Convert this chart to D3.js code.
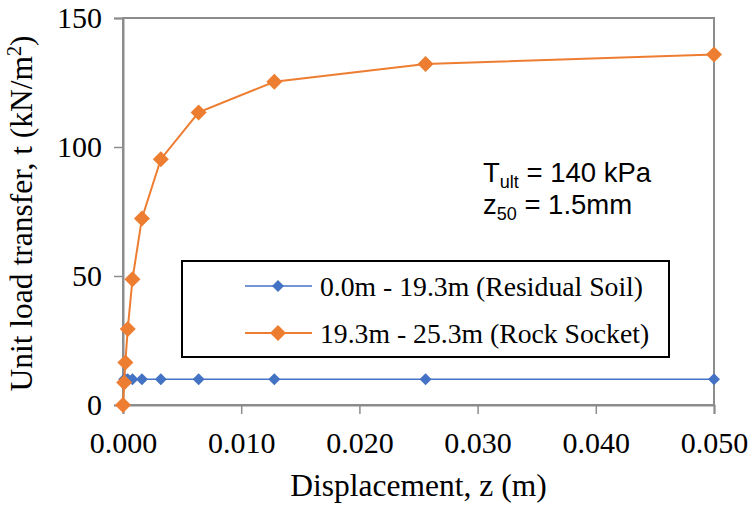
<!DOCTYPE html>
<html>
<head>
<meta charset="utf-8">
<script src="https://cdn.jsdelivr.net/npm/d3@7"></script>
<style>
body { margin: 0; background: #fff; }
text { font-family: "Liberation Serif", "Times New Roman", serif; fill: #000; }
</style>
</head>
<body>
<script>
var width = 753;
var height = 506;

// data
var zSoil = [0.0001, 0.0002, 0.0004, 0.0008, 0.0016, 0.0032, 0.0064, 0.0128, 0.0256, 0.05];
var tSoil = [10, 10, 10, 10, 10, 10, 10, 10, 10, 10];
var zRock = [0, 0.0001, 0.0002, 0.0004, 0.0008, 0.0016, 0.0032, 0.0064, 0.0128, 0.0256, 0.05];
var tRock = [0, 8.7, 16.5, 29.5, 48.7, 72.3, 95.3, 113.4, 125.3, 132.2, 135.9];
var seriesNames = ["0.0m - 19.3m (Residual Soil)", "19.3m - 25.3m (Rock Socket)"];
var xTicks = [0, 0.01, 0.02, 0.03, 0.04, 0.05];
var yTicks = [0, 50, 100, 150];

var margin = {left: 123, right: 39, top: 18, bottom: 101};
var w = width - margin.left - margin.right;
var h = height - margin.top - margin.bottom;

var svg = d3.select("body")
    .append("svg")
    .attr("width", width)
    .attr("height", height);

var g = svg.append("g")
    .attr("transform", "translate(" + margin.left + "," + margin.top + ")");

var x = d3.scaleLinear().domain([0, 0.05]).range([0, w]);
var y = d3.scaleLinear().domain([0, 150]).range([h, 0]);

// plot frame
g.append("rect")
    .attr("width", w)
    .attr("height", h)
    .attr("fill", "none")
    .attr("stroke", "#8c8c8c")
    .attr("stroke-width", 2);

var xAxis = g.append("g")
    .attr("transform", "translate(0," + h + ")")
    .call(d3.axisBottom(x).tickValues(xTicks).tickFormat(d3.format(".3f")).tickSize(9).tickPadding(18));
var yAxis = g.append("g")
    .call(d3.axisLeft(y).tickValues(yTicks).tickSize(9).tickPadding(12));

[xAxis, yAxis].forEach(function(a) {
  a.select(".domain").attr("stroke", "#8c8c8c").attr("stroke-width", 2);
  a.selectAll(".tick line").attr("stroke", "#8c8c8c").attr("stroke-width", 1.5);
  a.selectAll(".tick text").attr("font-size", 30).attr("font-family", "Liberation Serif").attr("fill", "#000");
});

var colors = ["#4472C4", "#ED7D31"];
var series = [
  {name: seriesNames[0], z: zSoil, t: tSoil, color: colors[0], r: 6, lw: 1.5},
  {name: seriesNames[1], z: zRock, t: tRock, color: colors[1], r: 8, lw: 2}
];

var line = d3.line()
    .x(function(d) { return x(d[0]); })
    .y(function(d) { return y(d[1]); });

var diamond = function(r) {
  return "M0," + (-r) + "L" + r + ",0L0," + r + "L" + (-r) + ",0Z";
};

series.forEach(function(s) {
  var pts = s.z.map(function(v, i) { return [v, s.t[i]]; });
  g.append("path")
      .datum(pts)
      .attr("fill", "none")
      .attr("stroke", s.color)
      .attr("stroke-width", s.lw)
      .attr("d", line);
  g.selectAll(null)
      .data(pts)
      .enter()
      .append("path")
      .attr("d", diamond(s.r))
      .attr("fill", s.color)
      .attr("transform", function(d) { return "translate(" + x(d[0]) + "," + y(d[1]) + ")"; });
});

// legend
var legend = svg.append("g").attr("transform", "translate(182,261)");
legend.append("rect")
    .attr("width", 487)
    .attr("height", 96)
    .attr("fill", "#fff")
    .attr("stroke", "#000")
    .attr("stroke-width", 2);
series.forEach(function(s, i) {
  var row = legend.append("g").attr("transform", "translate(0," + (25 + i * 47) + ")");
  row.append("line")
      .attr("x1", 63).attr("x2", 130)
      .attr("stroke", s.color)
      .attr("stroke-width", s.lw);
  row.append("path")
      .attr("d", diamond(s.r))
      .attr("fill", s.color)
      .attr("transform", "translate(96,0)");
  row.append("text")
      .attr("x", 138)
      .attr("dy", "0.35em")
      .attr("font-size", 27.7)
      .text(s.name);
});

// annotation
var note = svg.append("g").attr("font-size", 27.5);
var t1 = note.append("text").attr("x", 483).attr("y", 182).style("font-family", "Liberation Sans, Arial, sans-serif");
t1.append("tspan").text("T");
t1.append("tspan").attr("font-size", 18).attr("dy", 6).text("ult");
t1.append("tspan").attr("dy", -6).text(" = 140 kPa");
var t2 = note.append("text").attr("x", 483).attr("y", 214).style("font-family", "Liberation Sans, Arial, sans-serif");
t2.append("tspan").text("z");
t2.append("tspan").attr("font-size", 18).attr("dy", 6).text("50");
t2.append("tspan").attr("dy", -6).text(" = 1.5mm");

// axis titles
svg.append("text")
    .attr("x", margin.left + w / 2)
    .attr("y", 496)
    .attr("text-anchor", "middle")
    .attr("font-size", 31.5)
    .text("Displacement, z (m)");

var yt = svg.append("text")
    .attr("transform", "translate(32," + (margin.top + h / 2 + 2) + ") rotate(-90)")
    .attr("text-anchor", "middle")
    .attr("font-size", 31.5);
yt.append("tspan").text("Unit load transfer, t (kN/m");
yt.append("tspan").attr("font-size", 20).attr("dy", -11).text("2");
yt.append("tspan").attr("dy", 11).text(")");
</script>
</body>
</html>
